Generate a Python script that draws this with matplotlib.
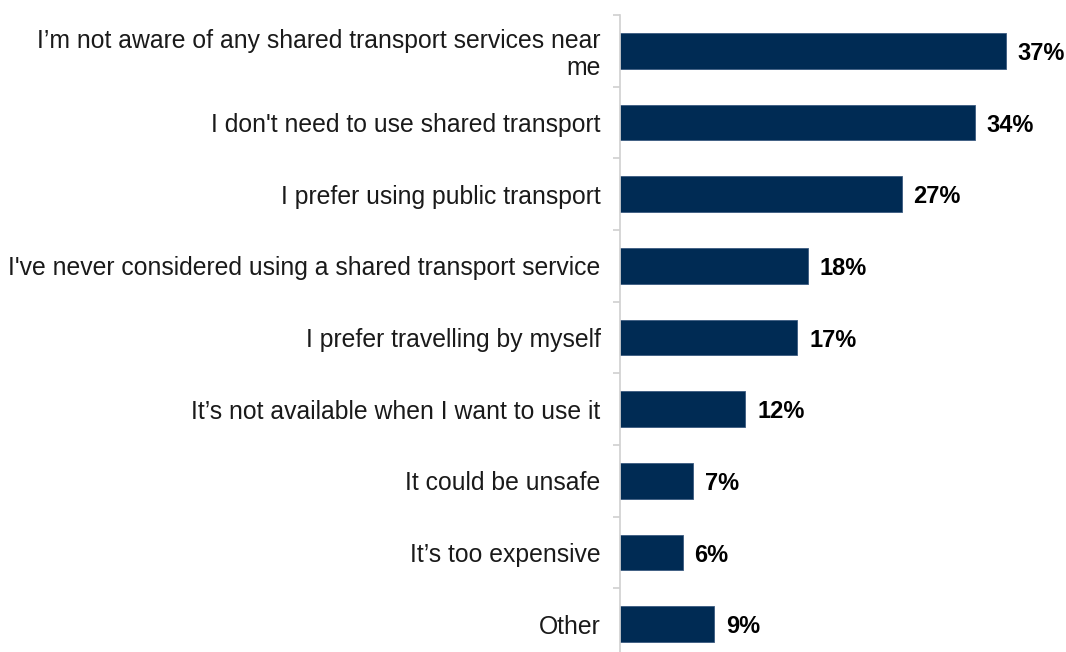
import numpy as np
import matplotlib
matplotlib.use("Agg")
import matplotlib.pyplot as plt

plt.rcParams["font.family"] = ["Liberation Sans", "DejaVu Sans"]

reasons = [
    "I’m not aware of any shared transport services near\nme",
    "I don't need to use shared transport",
    "I prefer using public transport",
    "I've never considered using a shared transport service",
    "I prefer travelling by myself",
    "It’s not available when I want to use it",
    "It could be unsafe",
    "It’s too expensive",
    "Other",
]
shares = [37, 34, 27, 18, 17, 12, 7, 6, 9]

bar_color = "#002B54"
px = 1 / 100

fig = plt.figure(figsize=(1066 * px, 652 * px), dpi=100)
# axes box in figure fractions, bottom runs slightly past the canvas
ax = fig.add_axes([620 / 1066, -8 / 652, 446 / 1066, 645 / 652])

y = np.arange(len(reasons))
ax.barh(y, shares, height=0.5, color=bar_color, edgecolor="#3a5a80", linewidth=0.6)

for yi, v in zip(y, shares):
    ax.text(v + 1.15, yi, f"{v}%", va="center_baseline", ha="left",
            fontsize=17, fontweight="bold", color="black")

ax.set_xlim(0, 446 / 10.43)
ax.set_ylim(len(reasons) - 0.5, -0.5)

ax.set_yticks(y)
ax.set_yticklabels(reasons, fontsize=17.8, color="#1a1a1a", linespacing=1.12)
ax.tick_params(axis="y", which="major", length=0, pad=14)
# small gray marks between the categories
ax.set_yticks(np.arange(len(reasons) + 1) - 0.5, minor=True)
ax.tick_params(axis="y", which="minor", length=5, width=1.2, color="#d0d0d0")

ax.set_xticks([])
for side in ["top", "right", "bottom"]:
    ax.spines[side].set_visible(False)
ax.spines["left"].set_color("#d0d0d0")
ax.spines["left"].set_linewidth(1.2)

fig.savefig("out.png", dpi=100)
